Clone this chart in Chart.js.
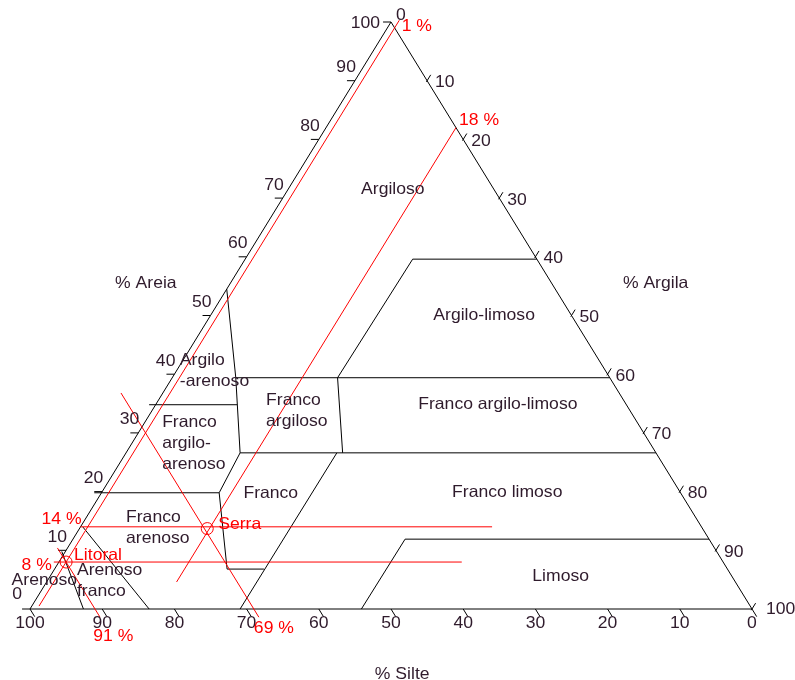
<!DOCTYPE html>
<html>
<head>
<meta charset="utf-8">
<script src="https://cdn.jsdelivr.net/npm/chart.js@4/dist/chart.umd.min.js"></script>
<style>
  html, body { margin: 0; padding: 0; background: #fff; }
  canvas { display: block; }
</style>
</head>
<body>
<canvas id="triangulo" width="795" height="680"></canvas>
<script>
// Triângulo textural. Todos os pontos são [argila, silte] em %; areia = 100 - argila - silte.

// Contorno do triângulo
const contorno = [[0, 0], [0, 100], [100, 0], [0, 0]];

// Limites entre as classes texturais
const limiteArgilosoArenoso = [[54.5, 0], [39.4, 8.8], [26.6, 15.8], [19.8, 16.3], [6.8, 23.9], [6.8, 29.0]];
const limiteArgiloArenosoBase = [[34.8, -0.9], [34.8, 11.3]];
const limiteFrancoArgilosoTopo = [[39.4, 8.8], [39.4, 60.6]];
const limiteFrancoArgilosoBase = [[26.6, 15.8], [26.6, 73.4]];
const limiteFrancoArenosoTopo = [[19.8, -1.0], [19.8, 16.3]];
const limiteFrancoLimoso = [[26.6, 29.2], [0, 29.1]];
const limiteFrancoArgilosoDir = [[39.4, 22.9], [26.6, 30.0]];
const limiteArgiloLimoso = [[39.4, 22.9], [59.6, 23.2], [59.6, 40.4]];
const limiteLimoso = [[0, 45.9], [11.9, 46.0], [11.9, 88.1]];
const limiteArenosoFranco = [[14, 0.3], [0, 16.5]];
const limiteArenoso = [[9.8, -0.5], [0, 7.4]];

const limites = [
  limiteArgilosoArenoso, limiteArgiloArenosoBase, limiteFrancoArgilosoTopo,
  limiteFrancoArgilosoBase, limiteFrancoArenosoTopo, limiteFrancoLimoso,
  limiteFrancoArgilosoDir, limiteArgiloLimoso, limiteLimoso,
  limiteArenosoFranco, limiteArenoso
];

// Classes texturais
const classes = [
  'Argiloso', 'Argilo-limoso', 'Franco argilo-limoso', 'Franco limoso', 'Limoso',
  'Franco\nargiloso', 'Franco', 'Argilo\n-arenoso', 'Franco\nargilo-\narenoso',
  'Franco\narenoso', 'Arenoso\nfranco', 'Arenoso'
];

// Amostras analisadas
const amostras = ['Serra', 'Litoral'];
const argilaAmostra = [14, 8];
const silteAmostra = [18, 1];
const areiaAmostra = [69, 91];
const pontoAmostra = [[13.7, 17.7], [8, 1]];

// Extensão das linhas de leitura de cada amostra
const extensaoArgila = [[0, 57], [-0.7, 55.8]];      // silte inicial/final
const extensaoSilte = [[82, 4.6], [100.3, 0.5]];     // argila inicial/final
const extensaoAreia = [[36.8, -1.4], [10.4, -1.4]];  // argila inicial/final

// Valores das escalas
const valoresEscala = [0, 10, 20, 30, 40, 50, 60, 70, 80, 90, 100];
const titulosEixos = ['% Areia', '% Argila', '% Silte'];

// ---- layout e estilo ----
const COR_TEXTO = '#2f1b2c';
const COR_LINHA = '#000000';
const VERMELHO = '#ff0000';
const FONTE = '16.5px "Liberation Sans", Arial, sans-serif';
const ESTICA = 1.065;      // largura horizontal do texto
const ENTRELINHA = 21;

const ancoraClasse = [
  [71.5, 14.5], [50, 37.9], [34.8, 47.4], [19.8, 56.2], [5.6, 70.7],
  [35.6, 14.9], [19.7, 23.5], [42.3, -0.4], [31.8, 2.4],
  [15.6, 5.5], [6.6, 3.2], [4.9, -5.0]
];
const alinhaClasse = ['center', 'center', 'center', 'center', 'center',
  'left', 'center', 'left', 'left', 'left', 'left', 'left'];
const ancoraTitulo = [[55.5, -11.7], [55.5, 58.9], [-11.1, 57.1]];

// deslocamentos (px) dos rótulos das amostras
const desloc = {
  argila: [[1, -7, 'right'], [-7, 3.6, 'right']],
  silte: [[3, -7, 'left'], [2.4, 6.5, 'left']],
  areia: [[-5, 11, 'left'], [-6.7, 19.5, 'left']],
  nome: [[11, -4], [8, -7]]
};

const toPt = ([a, s]) => ({ x: s + a / 2, y: a });

function linha(pts, cor) {
  return {
    data: pts.map(toPt), showLine: true, borderColor: cor, borderWidth: 1,
    pointRadius: 0, pointHoverRadius: 0, fill: false, tension: 0, clip: false
  };
}

const datasets = [];

// linhas de leitura das amostras
amostras.forEach((_, i) => {
  const a = argilaAmostra[i], s = silteAmostra[i], r = areiaAmostra[i];
  datasets.push(linha([[a, extensaoArgila[i][0]], [a, extensaoArgila[i][1]]], VERMELHO));
  datasets.push(linha([[extensaoSilte[i][0], s], [extensaoSilte[i][1], s]], VERMELHO));
  datasets.push(linha(extensaoAreia[i].map(c => [c, 100 - r - c]), VERMELHO));
});

// marcadores das amostras
datasets.push({
  data: pontoAmostra.map(toPt), showLine: false, pointStyle: 'circle', pointRadius: 6,
  pointHoverRadius: 6, borderColor: VERMELHO, backgroundColor: 'rgba(0,0,0,0)',
  borderWidth: 1, clip: false
});

datasets.push(linha(contorno, COR_LINHA));
limites.forEach(l => datasets.push(linha(l, COR_LINHA)));

// traços das escalas
valoresEscala.forEach(v => {
  datasets.push(linha([[v, 0], [v, -1.1]], COR_LINHA));                       // esquerda
  if (v > 0) datasets.push(linha([[100 - v - 0.2, v], [100 - v + 1.0, v]], COR_LINHA)); // direita
  datasets.push(linha([[0, 100 - v], [-1.3, 100 - v + 1.3]], COR_LINHA));     // base
});

function texto(ctx, str, x, y, align, cor) {
  ctx.save();
  ctx.translate(x, y);
  ctx.scale(ESTICA, 1);
  ctx.fillStyle = cor;
  ctx.font = FONTE;
  ctx.textAlign = align;
  ctx.textBaseline = 'middle';
  ctx.fillText(str, 0, 0);
  ctx.restore();
}

const rotulos = {
  id: 'rotulos',
  afterDatasetsDraw(chart) {
    const ctx = chart.ctx;
    const sx = chart.scales.x, sy = chart.scales.y;
    const px = ([a, s]) => [sx.getPixelForValue(s + a / 2), sy.getPixelForValue(a)];

    // classes
    classes.forEach((c, i) => {
      const [x, y] = px(ancoraClasse[i]);
      c.split('\n').forEach((ln, k) => texto(ctx, ln, x, y + k * ENTRELINHA, alinhaClasse[i], COR_TEXTO));
    });

    // títulos dos eixos
    titulosEixos.forEach((t, i) => {
      const [x, y] = px(ancoraTitulo[i]);
      texto(ctx, t, x, y, 'center', COR_TEXTO);
    });

    // escalas
    valoresEscala.forEach(v => {
      // esquerda
      let [x, y] = px([v, 0]);
      if (v === 100) texto(ctx, String(v), x - 11, y + 1, 'right', COR_TEXTO);
      else if (v === 0) texto(ctx, String(v), x - 8, y - 15, 'right', COR_TEXTO);
      else texto(ctx, String(v), x + 1, y - 13, 'right', COR_TEXTO);
      // direita
      [x, y] = px([100 - v, v]);
      if (v === 0) texto(ctx, String(v), x + 5, y - 7, 'left', COR_TEXTO);
      else if (v === 100) texto(ctx, String(v), x + 14, y, 'left', COR_TEXTO);
      else texto(ctx, String(v), x + 8, y + 2, 'left', COR_TEXTO);
      // base
      [x, y] = px([0, 100 - v]);
      texto(ctx, String(v), x, y + 14, 'center', COR_TEXTO);
    });

    // amostras
    amostras.forEach((nome, i) => {
      const a = argilaAmostra[i], s = silteAmostra[i], r = areiaAmostra[i];
      let d = desloc.argila[i];
      let [x, y] = px([a, 0]);
      texto(ctx, a + ' %', x + d[0], y + d[1], d[2], VERMELHO);
      d = desloc.silte[i];
      [x, y] = px([extensaoSilte[i][0], s]);
      texto(ctx, s + ' %', x + d[0], y + d[1], d[2], VERMELHO);
      d = desloc.areia[i];
      const cb = extensaoAreia[i][1];
      [x, y] = px([cb, 100 - r - cb]);
      texto(ctx, r + ' %', x + d[0], y + d[1], d[2], VERMELHO);
      d = desloc.nome[i];
      [x, y] = px(pontoAmostra[i]);
      texto(ctx, nome, x + d[0], y + d[1], 'left', VERMELHO);
    });
  }
};

new Chart(document.getElementById('triangulo'), {
  type: 'scatter',
  data: { datasets },
  options: {
    responsive: false,
    animation: false,
    devicePixelRatio: 1,
    events: [],
    layout: { padding: { left: 30, right: 43, top: 22, bottom: 71 } },
    scales: {
      x: { type: 'linear', min: 0, max: 100, display: false },
      y: { type: 'linear', min: 0, max: 100, display: false }
    },
    plugins: { legend: { display: false }, tooltip: { enabled: false } }
  },
  plugins: [rotulos]
});
</script>
</body>
</html>
